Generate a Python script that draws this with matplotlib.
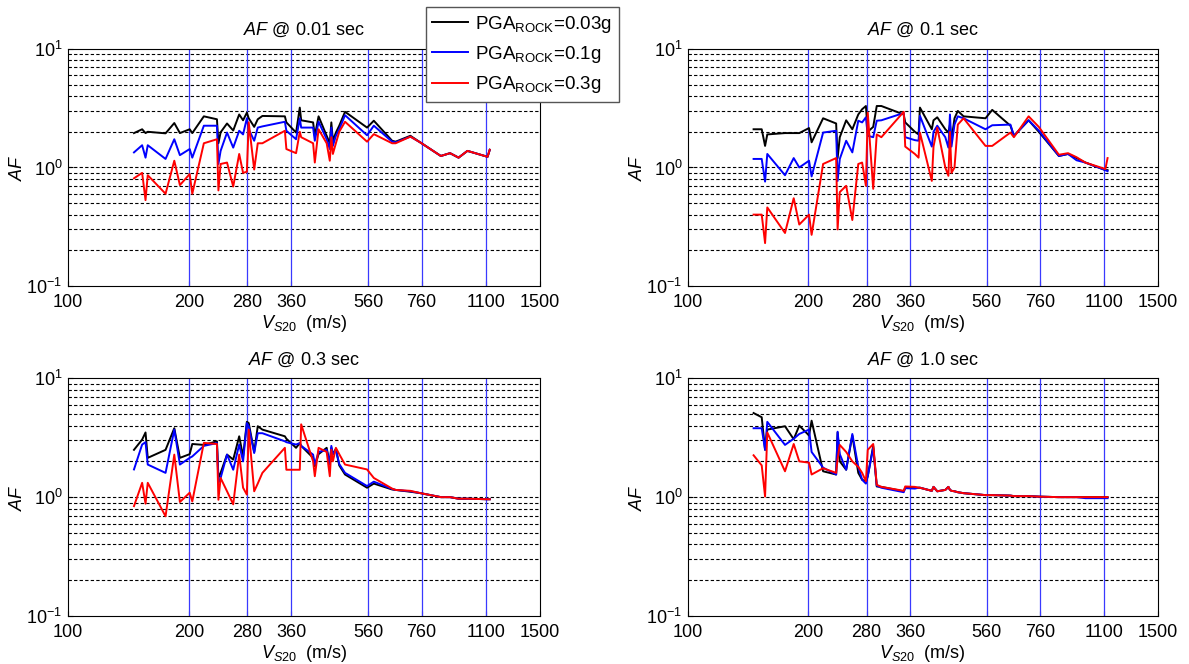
import matplotlib
matplotlib.use('Agg')
import matplotlib.pyplot as plt
from matplotlib.ticker import FixedLocator, FixedFormatter, NullFormatter, NullLocator

plt.rcParams['font.family'] = ['Liberation Sans', 'DejaVu Sans']
plt.rcParams['mathtext.fontset'] = 'custom'
plt.rcParams['mathtext.rm'] = 'Liberation Sans'
plt.rcParams['mathtext.it'] = 'Liberation Sans:italic'

# site Vs20 values (m/s), shared by all panels
vs20 = [146, 153, 156, 158, 175, 184, 190, 201, 204, 218, 235, 237, 240, 249, 258, 267, 273,
        279, 282, 291, 297, 305, 347, 350, 370, 378, 381, 408, 412, 421, 441, 449, 453, 457,
        465, 474, 490, 556, 578, 642, 655, 713, 756, 849, 895, 940, 989, 1110, 1124]

# AF @ 0.01 sec
af001_pga003 = [1.95, 2.1, 1.95, 2.0, 1.94, 2.37, 1.95, 2.1, 1.95, 2.7, 2.55, 1.6, 1.98, 2.35, 2.05, 2.8, 2.5,
                2.9, 2.6, 2.2, 2.55, 2.72, 2.7, 2.4, 1.97, 3.2, 2.5, 2.4, 1.85, 2.7, 1.85, 1.6, 2.4, 1.68,
                1.97, 2.25, 2.95, 2.17, 2.48, 1.68, 1.65, 1.85, 1.62, 1.25, 1.32, 1.21, 1.38, 1.23, 1.41]
af001_pga01 = [1.34, 1.54, 1.21, 1.54, 1.18, 1.73, 1.27, 1.43, 1.21, 2.25, 2.25, 1.07, 1.38, 1.97, 1.47, 2.04, 1.9,
               2.6, 2.1, 1.68, 2.17, 2.22, 2.43, 2.04, 1.73, 2.6, 2.17, 2.17, 1.68, 2.43, 1.73, 1.43, 2.17, 1.52,
               1.85, 2.1, 2.76, 1.87, 2.25, 1.65, 1.63, 1.82, 1.62, 1.25, 1.32, 1.21, 1.38, 1.23, 1.41]
af001_pga03 = [0.81, 0.9, 0.53, 0.86, 0.6, 1.14, 0.71, 0.88, 0.6, 1.6, 1.73, 0.64, 1.07, 1.1, 0.69, 1.3, 0.9,
               0.92, 2.4, 0.96, 1.6, 1.6, 2.04, 1.43, 1.32, 2.0, 1.8, 1.6, 1.1, 2.1, 1.6, 1.14, 1.8, 1.3,
               1.6, 2.0, 2.43, 1.65, 1.91, 1.6, 1.6, 1.82, 1.62, 1.25, 1.32, 1.21, 1.38, 1.23, 1.41]

# AF @ 0.1 sec
af01_pga003 = [2.1, 2.1, 1.52, 1.9, 1.95, 1.95, 1.95, 2.15, 1.63, 2.6, 2.35, 1.2, 1.8, 2.5, 2.1, 2.8, 3.1,
               3.3, 2.0, 2.2, 3.3, 3.3, 2.8, 2.4, 2.0, 1.9, 3.2, 2.1, 2.5, 2.65, 2.1, 1.97, 2.3, 1.7,
               2.6, 3.0, 2.7, 2.6, 3.06, 2.25, 1.85, 2.5, 2.0, 1.25, 1.3, 1.2, 1.1, 0.95, 0.95]
af01_pga01 = [1.18, 1.18, 0.76, 1.3, 0.86, 1.2, 1.0, 1.14, 0.84, 1.97, 2.04, 0.77, 1.18, 1.68, 1.34, 2.48, 2.4,
              2.65, 1.85, 1.8, 2.48, 2.5, 2.88, 1.8, 1.7, 1.68, 2.73, 1.5, 2.0, 2.25, 1.8, 1.47, 2.8, 1.5,
              2.3, 2.7, 2.6, 2.1, 2.27, 2.3, 1.85, 2.5, 2.05, 1.25, 1.3, 1.15, 1.1, 0.95, 0.93]
af01_pga03 = [0.4, 0.4, 0.23, 0.46, 0.28, 0.55, 0.33, 0.4, 0.27, 1.07, 1.2, 0.3, 0.62, 0.7, 0.36, 1.07, 1.1,
              0.7, 2.9, 0.66, 1.9, 1.8, 2.95, 1.5, 1.3, 1.21, 1.97, 0.77, 1.5, 2.17, 1.0, 0.85, 2.0, 0.9,
              1.0, 2.3, 2.6, 1.52, 1.52, 1.97, 1.8, 2.7, 2.2, 1.28, 1.32, 1.22, 1.1, 0.97, 1.2]

# AF @ 0.3 sec
af03_pga003 = [2.5, 3.05, 3.5, 2.14, 2.5, 3.8, 2.14, 2.3, 2.8, 2.75, 2.95, 1.45, 1.6, 2.28, 2.07, 3.25, 2.2,
               4.3, 4.2, 2.4, 3.95, 3.7, 3.25, 3.1, 2.6, 2.85, 2.7, 2.14, 1.82, 2.3, 2.6, 1.9, 2.6, 2.3,
               2.55, 1.85, 1.55, 1.2, 1.3, 1.16, 1.15, 1.11, 1.08, 1.0, 1.0, 0.97, 0.97, 0.96, 0.96]
af03_pga01 = [1.71, 2.77, 2.9, 1.88, 1.6, 3.7, 1.88, 2.14, 2.2, 2.7, 2.85, 1.32, 1.45, 2.28, 1.7, 2.77, 2.0,
              4.2, 3.95, 2.35, 3.45, 3.45, 2.95, 2.9, 2.77, 2.85, 2.7, 2.28, 1.88, 2.4, 2.5, 1.9, 2.7, 2.3,
              2.5, 1.9, 1.6, 1.24, 1.35, 1.17, 1.15, 1.12, 1.08, 1.0, 1.0, 0.97, 0.97, 0.96, 0.96]
af03_pga03 = [0.84, 1.32, 0.88, 1.32, 0.69, 2.28, 0.91, 1.09, 0.92, 2.86, 2.8, 0.95, 1.45, 1.12, 0.87, 2.28, 1.2,
              1.05, 3.7, 1.12, 1.3, 1.6, 2.6, 1.7, 1.7, 1.7, 4.1, 2.0, 1.5, 2.6, 2.4, 1.5, 2.5, 2.0,
              2.6, 2.3, 1.88, 1.71, 1.45, 1.18, 1.15, 1.13, 1.08, 1.0, 1.0, 0.97, 0.97, 0.96, 0.96]

# AF @ 1.0 sec
af10_pga003 = [5.1, 4.7, 2.5, 3.7, 3.95, 3.07, 4.0, 3.3, 4.4, 1.65, 1.55, 3.5, 2.0, 1.7, 3.3, 1.6, 1.4,
               1.36, 1.5, 2.7, 1.23, 1.22, 1.12, 1.2, 1.2, 1.2, 1.2, 1.13, 1.22, 1.12, 1.15, 1.22, 1.15, 1.13,
               1.12, 1.1, 1.08, 1.04, 1.04, 1.03, 1.02, 1.02, 1.01, 1.0, 1.0, 1.0, 1.0, 1.0, 1.0]
af10_pga01 = [3.8, 3.8, 2.5, 4.3, 2.75, 3.1, 3.4, 3.7, 2.4, 1.77, 1.55, 3.55, 2.3, 1.7, 3.4, 1.8, 1.4,
              1.3, 1.5, 2.6, 1.25, 1.2, 1.1, 1.19, 1.18, 1.2, 1.2, 1.13, 1.22, 1.12, 1.15, 1.22, 1.15, 1.13,
              1.12, 1.1, 1.08, 1.04, 1.04, 1.03, 1.02, 1.02, 1.01, 1.0, 1.0, 1.0, 0.98, 0.98, 0.98]
af10_pga03 = [2.25, 1.85, 1.01, 3.5, 1.65, 2.8, 2.0, 1.95, 1.55, 1.75, 1.6, 2.1, 2.75, 2.4, 2.0, 1.8, 1.6,
              1.36, 2.5, 2.8, 1.27, 1.22, 1.13, 1.23, 1.22, 1.2, 1.2, 1.13, 1.22, 1.12, 1.15, 1.22, 1.15, 1.13,
              1.12, 1.1, 1.08, 1.04, 1.04, 1.03, 1.02, 1.02, 1.01, 1.0, 1.0, 1.0, 1.0, 1.0, 1.0]

periods = ['0.01', '0.1', '0.3', '1.0']
panels = [(af001_pga003, af001_pga01, af001_pga03),
          (af01_pga003, af01_pga01, af01_pga03),
          (af03_pga003, af03_pga01, af03_pga03),
          (af10_pga003, af10_pga01, af10_pga03)]
pga_labels = ['0.03g', '0.1g', '0.3g']
line_colors = ['black', '#0000ff', '#ff0000']

x_ticks = [100, 200, 280, 360, 560, 760, 1100, 1500]
site_class_bounds = [200, 280, 360, 560, 760, 1100]
y_grid = [0.2, 0.3, 0.4, 0.5, 0.6, 0.7, 0.8, 0.9, 1, 2, 3, 4, 5, 6, 7, 8, 9]

fig = plt.figure(figsize=(11.89, 6.64), dpi=100)
positions = [[0.0572, 0.5693, 0.397, 0.357],
             [0.5786, 0.5693, 0.395, 0.357],
             [0.0572, 0.0723, 0.397, 0.358],
             [0.5786, 0.0723, 0.395, 0.358]]

handles = []
for i, pos in enumerate(positions):
    ax = fig.add_axes(pos)
    ax.set_xscale('log')
    ax.set_yscale('log')
    ax.set_xlim(100, 1500)
    ax.set_ylim(0.1, 10)
    for g in y_grid:
        ax.axhline(g, color='black', lw=0.8, ls=(0, (3, 2)), zorder=1)
    for b in site_class_bounds:
        ax.axvline(b, color='#3a3aff', lw=0.9, zorder=2)
    for vals, c, lab in zip(panels[i], line_colors, pga_labels):
        h, = ax.plot(vs20, vals, color=c, lw=1.4, zorder=3,
                     label='PGA$_{\\mathrm{ROCK}}$=' + lab)
        if i == 0:
            handles.append(h)
    ax.xaxis.set_major_locator(FixedLocator(x_ticks))
    ax.xaxis.set_major_formatter(FixedFormatter([str(t) for t in x_ticks]))
    ax.xaxis.set_minor_locator(NullLocator())
    ax.xaxis.set_minor_formatter(NullFormatter())
    ax.tick_params(which='both', direction='in', labelsize=13)
    ax.tick_params(axis='x', pad=6)
    ax.tick_params(axis='y', pad=4)
    ax.set_title('$\\mathit{AF}$ @ ' + periods[i] + ' sec', fontsize=13, pad=10)
    ax.set_xlabel('$V_{S20}$  (m/s)', fontsize=13, labelpad=1)
    ax.set_ylabel('$\\mathit{AF}$', fontsize=13, labelpad=0)

fig.legend(handles=handles, loc='upper left', bbox_to_anchor=(0.358, 0.9895),
           borderaxespad=0, fontsize=13.5, frameon=True, fancybox=False, edgecolor='#555555',
           framealpha=1, handlelength=1.9, handletextpad=0.4, borderpad=0.35, labelspacing=0.5)

fig.savefig('out.png', dpi=100)
